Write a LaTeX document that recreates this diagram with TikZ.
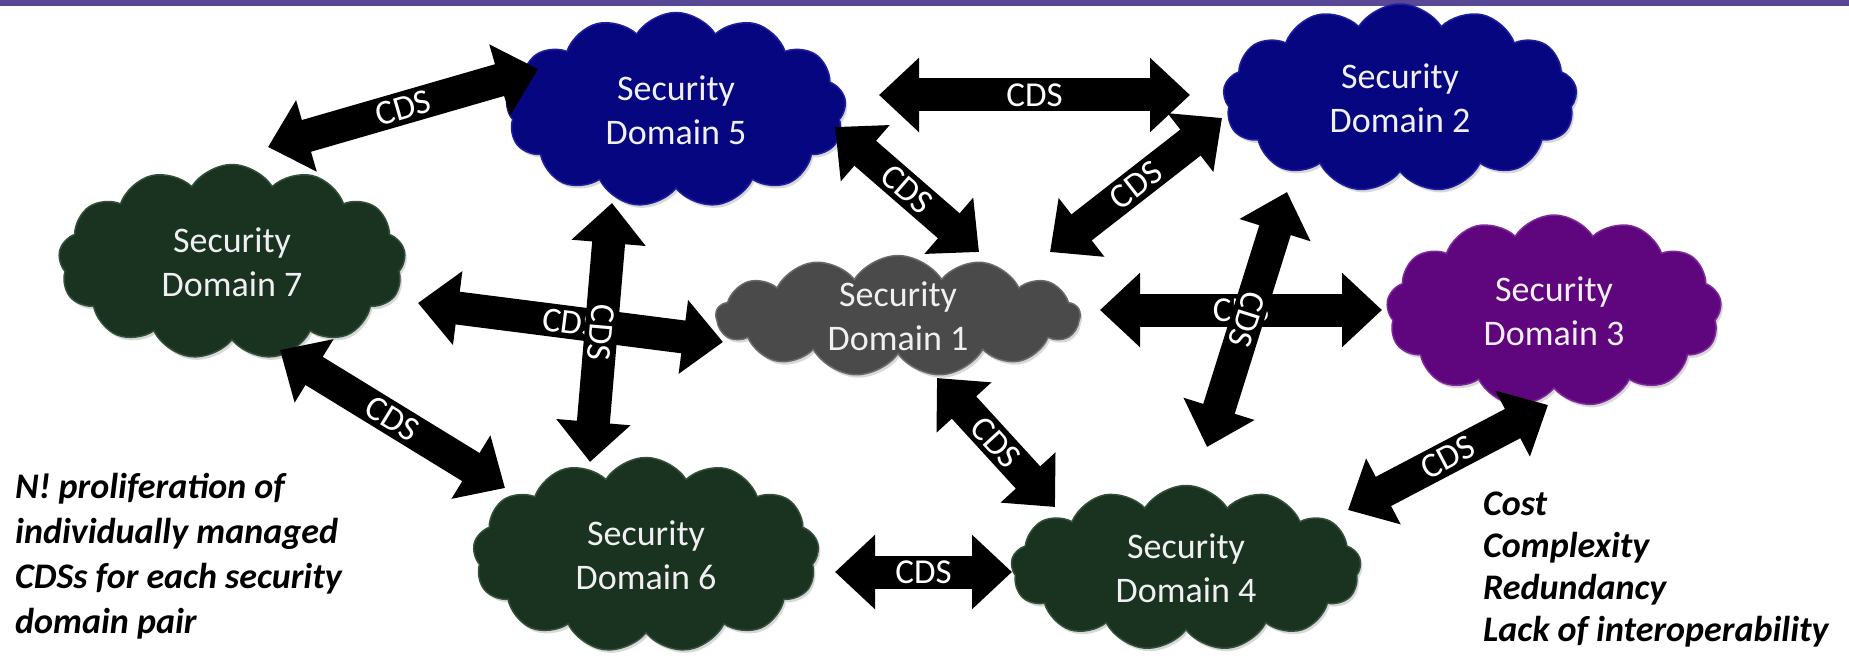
\documentclass[tikz,border=0pt]{standalone}
\usepackage{fontspec}
\setmainfont{Carlito}
\usetikzlibrary{shapes.symbols,arrows.meta,shadows}
\definecolor{barpurple}{RGB}{89,72,150}
\definecolor{navyfill}{RGB}{6,6,128}
\definecolor{navyedge}{RGB}{30,30,160}
\definecolor{greenfill}{RGB}{26,50,32}
\definecolor{greenedge}{RGB}{50,80,58}
\definecolor{grayfill}{RGB}{74,74,74}
\definecolor{grayedge}{RGB}{105,105,105}
\definecolor{purplefill}{RGB}{95,5,125}
\definecolor{purpleedge}{RGB}{125,40,155}
\definecolor{cloudtext}{RGB}{240,240,242}
\definecolor{arrowedge}{RGB}{70,70,70}
\begin{document}
\begin{tikzpicture}[x=1pt,y=-1pt,
  cloudnode/.style={cloud, cloud puffs=13, cloud puff arc=115, cloud ignores aspect,
    inner sep=0pt, text=cloudtext, align=center,
    font=\fontsize{36}{44}\selectfont, line width=1.5pt,
    drop shadow={shadow xshift=2pt,shadow yshift=-3pt,opacity=0.3}},
  navycloud/.style={cloudnode, fill=navyfill, draw=navyedge},
  greencloud/.style={cloudnode, fill=greenfill, draw=greenedge},
  graycloud/.style={cloudnode, fill=grayfill, draw=grayedge},
  purplecloud/.style={cloudnode, fill=purplefill, draw=purpleedge},
  cdsarrow/.style={draw=black, line width=33pt,
    {Triangle[width=72pt,length=40pt]}-{Triangle[width=72pt,length=40pt]}},
  cdslabel/.style={midway, sloped, text=white, inner sep=0pt,
    font=\fontsize{35}{40}\selectfont},
  sidetext/.style={anchor=west, align=left, inner sep=0pt,
    font=\fontsize{36}{45}\selectfont\bfseries\itshape}
  ]
\useasboundingbox (0,0) rectangle (1849,660);
\fill[white] (0,0) rectangle (1849,660);
\fill[barpurple] (0,0) rectangle (1849,6);

% clouds
\node[navycloud, minimum width=340pt, minimum height=195pt] (d5) at (676,110) {Security\\Domain 5};
\node[navycloud, minimum width=354pt, minimum height=188pt] (d2) at (1400,98) {Security\\Domain 2};
\node[greencloud, minimum width=347pt, minimum height=195pt] (d7) at (232,262) {Security\\Domain 7};
\node[graycloud, minimum width=364pt, minimum height=120pt] (d1) at (898,316) {Security\\Domain 1};
\node[purplecloud, minimum width=335pt, minimum height=192pt] (d3) at (1554,311) {Security\\Domain 3};
\node[greencloud, minimum width=346pt, minimum height=195pt] (d6) at (646,555) {Security\\Domain 6};
\node[greencloud, minimum width=350pt, minimum height=165pt] (d4) at (1186,568) {Security\\Domain 4};

% arrow end points
\coordinate (a1s) at (268,147);  \coordinate (a1e) at (538,69);
\coordinate (a2s) at (879,95);   \coordinate (a2e) at (1190,95);
\coordinate (a3s) at (835,127);  \coordinate (a3e) at (979,252);
\coordinate (a4s) at (1222,118); \coordinate (a4e) at (1050,252);
\coordinate (a5s) at (418,303);  \coordinate (a5e) at (723,342);
\coordinate (a6s) at (612,203);  \coordinate (a6e) at (590,462);
\coordinate (a7s) at (1100,310); \coordinate (a7e) at (1382,310);
\coordinate (a8s) at (1287,192); \coordinate (a8e) at (1207,447);
\coordinate (a9s) at (280,350);  \coordinate (a9e) at (505,488);
\coordinate (a10s) at (937,378); \coordinate (a10e) at (1055,507);
\coordinate (a11s) at (835,572); \coordinate (a11e) at (1012,572);
\coordinate (a12s) at (1348,510); \coordinate (a12e) at (1548,405);

% CDS arrows
\draw[cdsarrow] (a1s) -- node[cdslabel] (l1) {CDS} (a1e);
\draw[cdsarrow] (a2s) -- node[cdslabel] (l2) {CDS} (a2e);
\draw[cdsarrow] (a3s) -- node[cdslabel] (l3) {CDS} (a3e);
\draw[cdsarrow] (a4s) -- node[cdslabel] (l4) {CDS} (a4e);
\draw[cdsarrow] (a5s) -- node[cdslabel] (l5) {CDS} (a5e);
\draw[cdsarrow] (a6s) -- node[cdslabel, allow upside down] (l6) {CDS} (a6e);
\draw[cdsarrow] (a7s) -- node[cdslabel] (l7) {CDS} (a7e);
\draw[cdsarrow] (a8s) -- node[cdslabel, allow upside down] (l8) {CDS} (a8e);
\draw[cdsarrow] (a9s) -- node[cdslabel] (l9) {CDS} (a9e);
\draw[cdsarrow] (a10s) -- node[cdslabel] (l10) {CDS} (a10e);
\draw[cdsarrow] (a11s) -- node[cdslabel] (l11) {CDS} (a11e);
\draw[cdsarrow] (a12s) -- node[cdslabel] (l12) {CDS} (a12e);

% side texts
\node[sidetext] (note) at (15,556) {N! proliferation of\\individually managed\\CDSs for each security\\domain pair};
\node[sidetext, font=\fontsize{36}{42}\selectfont\bfseries\itshape] (issues) at (1483,570) {Cost\\Complexity\\Redundancy\\Lack of interoperability};
\end{tikzpicture}
\end{document}
